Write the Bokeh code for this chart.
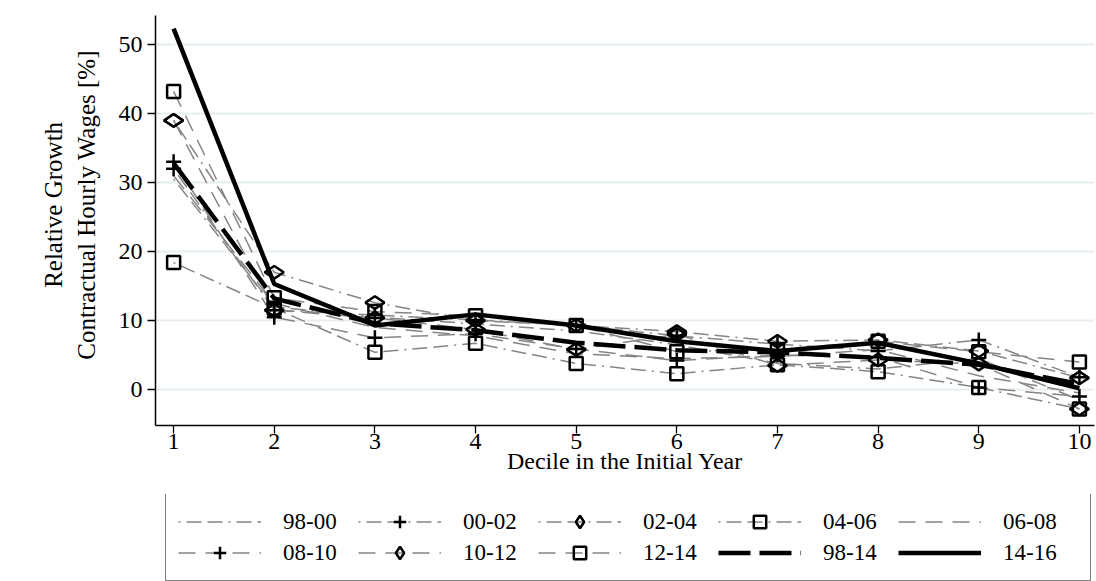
from bokeh.plotting import figure
from bokeh.models import Legend, LegendItem, FixedTicker
from bokeh.layouts import column
from bokeh.embed import file_html
from bokeh.resources import INLINE
import math

# Relative growth of contractual hourly wages [%] by decile of the initial year
deciles = [1, 2, 3, 4, 5, 6, 7, 8, 9, 10]

s98_00 = [30.5, 12.0, 10.5, 9.5, 8.5, 6.5, 3.8, 3.0, 4.5, -1.5]
s00_02 = [32.0, 11.5, 10.8, 10.1, 9.3, 7.8, 6.6, 5.6, 7.2, 1.8]
s02_04 = [39.0, 17.0, 12.6, 10.0, 9.3, 8.4, 7.0, 7.2, 5.6, 1.7]
s04_06 = [18.4, 11.8, 5.4, 6.7, 3.8, 2.3, 3.6, 2.6, 0.3, -2.8]
s06_08 = [31.0, 12.5, 9.0, 7.8, 5.2, 4.5, 4.8, 5.8, 2.0, -0.5]
s08_10 = [33.0, 10.5, 7.5, 8.1, 5.9, 4.2, 5.0, 4.7, 0.3, -1.0]
s10_12 = [39.0, 11.5, 10.4, 8.7, 5.8, 8.0, 3.5, 4.3, 3.7, -2.8]
s12_14 = [43.2, 13.3, 11.3, 10.7, 9.3, 5.5, 5.8, 7.0, 5.5, 4.0]
s98_14 = [32.8, 13.2, 9.6, 8.6, 6.8, 5.7, 5.4, 4.6, 3.6, 0.8]
s14_16 = [52.3, 15.3, 9.3, 10.9, 9.3, 7.0, 5.6, 6.8, 3.8, 0.2]

y_ticks = [0, 10, 20, 30, 40, 50]

SERIF = "Liberation Serif"
GRAY = "#858585"
DASH_DOT = "2 6 15 6 15 6"
DASH = "17 10"
NBSP = "\u00a0" * 5   # nudges the rotated y title a little upward

series = [
    ("98-00", s98_00, DASH_DOT, None),
    ("00-02", s00_02, DASH_DOT, "cross"),
    ("02-04", s02_04, DASH_DOT, "diamond"),
    ("04-06", s04_06, DASH_DOT, "square"),
    ("06-08", s06_08, DASH, None),
    ("08-10", s08_10, DASH, "cross"),
    ("10-12", s10_12, DASH, "diamond"),
    ("12-14", s12_14, DASH, "square"),
]


def add_marker(fig, xs, ys, marker):
    if marker == "cross":
        return fig.scatter(xs, ys, marker="cross", size=15,
                           line_color="black", line_width=2.5)
    if marker == "diamond":
        return fig.scatter(xs, ys, marker="diamond", size=19, angle=math.pi / 2,
                           line_color="black", line_width=2.5, fill_alpha=0)
    if marker == "square":
        return fig.scatter(xs, ys, marker="square", size=13,
                           line_color="black", line_width=2.5, fill_alpha=0)
    return None


# ---- main chart: frame fixed at 939 x 410 px ----
p = figure(frame_width=939, frame_height=410, x_range=(0.82, 10.15), y_range=(-5.2, 54.2),
           output_backend="svg", toolbar_location=None,
           min_border_left=155, min_border_top=15, min_border_right=2, min_border_bottom=69)
p.outline_line_color = None
p.background_fill_color = "white"
p.border_fill_color = "white"

p.xgrid.visible = False
p.ygrid.grid_line_color = "#e6eef0"
p.ygrid.grid_line_width = 2

p.xaxis.ticker = FixedTicker(ticks=deciles)
p.yaxis.ticker = FixedTicker(ticks=y_ticks)
for ax in (p.xaxis, p.yaxis):
    ax.axis_line_color = "black"
    ax.axis_line_width = 1.5
    ax.major_tick_line_color = "black"
    ax.major_tick_line_width = 1.3
    ax.major_tick_out = 8
    ax.major_tick_in = 0
    ax.minor_tick_line_color = None
    ax.major_label_text_font = SERIF
    ax.major_label_text_font_size = "24px"
    ax.major_label_text_color = "black"
    ax.axis_label_text_font = SERIF
    ax.axis_label_text_font_style = "normal"
    ax.axis_label_text_color = "black"

p.xaxis.axis_label = "Decile in the Initial Year"
p.xaxis.axis_label_text_font_size = "24px"
p.xaxis.major_label_standoff = 0
p.xaxis.axis_label_standoff = -4
p.yaxis.axis_label = NBSP + "Relative Growth\n" + NBSP + "Contractual Hourly Wages [%]"
p.yaxis.axis_label_text_font_size = "25px"
p.yaxis.major_label_standoff = 5
p.yaxis.axis_label_standoff = 16

for label, vals, dash, marker in series:
    p.line(deciles, vals, line_color=GRAY, line_width=1.5, line_dash=dash)

p.line(deciles, s98_14, line_color="black", line_width=4.5, line_dash="32 9")
p.line(deciles, s14_16, line_color="black", line_width=4.5)

for label, vals, dash, marker in series:
    add_marker(p, deciles, vals, marker)

# ---- legend panel (key glyphs sit outside the visible ranges) ----
q = figure(width=1096, height=87, x_range=(0, 1), y_range=(0, 1),
           output_backend="svg", toolbar_location=None,
           min_border_left=0, min_border_right=0, min_border_top=0, min_border_bottom=0)
q.axis.visible = False
q.grid.visible = False
q.outline_line_color = None
q.border_fill_color = "white"
q.background_fill_color = "white"

off_x = [-5, -4]
off_y = [-5, -4]
items = []
for label, vals, dash, marker in series:
    rends = [q.line(off_x, off_y, line_color=GRAY, line_width=1.5, line_dash=dash)]
    m = add_marker(q, off_x, off_y, marker)
    if m is not None:
        rends.append(m)
    items.append(LegendItem(label=label, renderers=rends))
items.append(LegendItem(label="98-14", renderers=[
    q.line(off_x, off_y, line_color="black", line_width=4.5, line_dash="32 9")]))
items.append(LegendItem(label="14-16", renderers=[
    q.line(off_x, off_y, line_color="black", line_width=4.5)]))

legend = Legend(items=items, orientation="horizontal", ncols=5, location=(10, 0))
legend.label_text_font = SERIF
legend.label_text_font_size = "23px"
legend.label_text_color = "black"
legend.glyph_width = 83
legend.glyph_height = 31
legend.label_standoff = 22
legend.label_width = 75
legend.spacing = 0
legend.padding = 12
legend.margin = 0
legend.border_line_color = "black"
legend.border_line_width = 1.5
legend.background_fill_color = "white"
q.add_layout(legend, "center")

open("out.html", "w").write(file_html(column(p, q, spacing=0), INLINE))
